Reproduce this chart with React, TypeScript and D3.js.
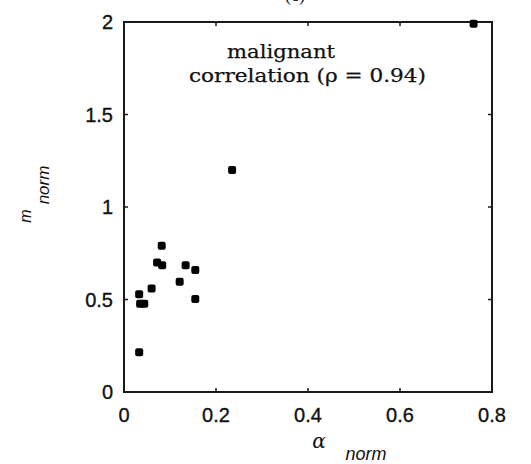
import React from "react";
import * as d3 from "d3";

const alphaNorm = [0.76, 0.235, 0.082, 0.072, 0.083, 0.134, 0.155, 0.121, 0.06, 0.033, 0.035, 0.044, 0.155, 0.033];
const mNorm = [1.99, 1.2, 0.79, 0.7, 0.685, 0.685, 0.66, 0.596, 0.56, 0.528, 0.477, 0.477, 0.503, 0.215];
const xTicks = [0, 0.2, 0.4, 0.6, 0.8];
const yTicks = [0, 0.5, 1, 1.5, 2];
const annotation = ["malignant", "correlation (\u03c1 = 0.94)"];
const xLabel = ["\u03b1", "norm"];
const yLabel = ["m", "norm"];

const W = 531, H = 464;
const L = 124, R = 492, T = 22, B = 392;

export default function App() {
  const x = d3.scaleLinear().domain([0, 0.8]).range([L, R]);
  const y = d3.scaleLinear().domain([0, 2]).range([B, T]);
  const sans = "'Liberation Sans', Arial, sans-serif";
  const serif = "'DejaVu Serif', 'Liberation Serif', serif";
  const tl = 4;
  const stroke = "#1a1a1a";
  return (
    <svg width={W} height={H} style={{ position: "absolute", left: 0, top: 0, background: "#fff" }}>
      <text x={295} y={1} fontFamily="'Liberation Serif', serif" fontSize={18} textAnchor="middle" fill="#222">(c)</text>
      <rect x={L} y={T} width={R - L} height={B - T} fill="none" stroke={stroke} strokeWidth={2} />
      {xTicks.slice(1, -1).map((t) => (
        <g key={"xt" + t}>
          <line x1={x(t)} x2={x(t)} y1={B} y2={B - tl} stroke={stroke} strokeWidth={1.5} />
          <line x1={x(t)} x2={x(t)} y1={T} y2={T + tl} stroke={stroke} strokeWidth={1.5} />
        </g>
      ))}
      {yTicks.slice(1, -1).map((t) => (
        <g key={"yt" + t}>
          <line x1={L} x2={L + tl} y1={y(t)} y2={y(t)} stroke={stroke} strokeWidth={1.5} />
          <line x1={R} x2={R - tl} y1={y(t)} y2={y(t)} stroke={stroke} strokeWidth={1.5} />
        </g>
      ))}
      {xTicks.map((t) => (
        <text key={"xl" + t} x={x(t)} y={B + 30} fontFamily={sans} fontSize={20} textAnchor="middle" fill="#111" stroke="#111" strokeWidth={0.35}>
          {String(t)}
        </text>
      ))}
      {yTicks.map((t) => (
        <text key={"yl" + t} x={L - 11} y={y(t) + 7} fontFamily={sans} fontSize={20} textAnchor="end" fill="#111" stroke="#111" strokeWidth={0.35}>
          {String(t)}
        </text>
      ))}
      <text x={319} y={448} fontFamily={serif} fontStyle="italic" fontSize={20} textAnchor="middle" fill="#111">{xLabel[0]}</text>
      <text x={366} y={460} fontFamily={sans} fontStyle="italic" fontSize={18} textAnchor="middle" fill="#111">{xLabel[1]}</text>
      <g transform="translate(31,216) rotate(-90)">
        <text x={0} y={0} fontFamily={sans} fontStyle="italic" fontSize={16} textAnchor="middle" fill="#111">{yLabel[0]}</text>
      </g>
      <g transform="translate(49,185) rotate(-90)">
        <text x={0} y={0} fontFamily={sans} fontStyle="italic" fontSize={17} textAnchor="middle" fill="#111">{yLabel[1]}</text>
      </g>
      <text x={227} y={58} fontFamily={serif} fontSize={18} textLength={108} lengthAdjust="spacingAndGlyphs" fill="#111" stroke="#111" strokeWidth={0.25}>{annotation[0]}</text>
      <text x={189} y={82} fontFamily={serif} fontSize={18} textLength={237} lengthAdjust="spacingAndGlyphs" fill="#111" stroke="#111" strokeWidth={0.25}>{annotation[1]}</text>
      {alphaNorm.map((a, i) => (
        <rect key={"p" + i} x={x(a) - 4} y={y(mNorm[i]) - 4} width={8} height={8} rx={2} fill="#000" />
      ))}
    </svg>
  );
}
